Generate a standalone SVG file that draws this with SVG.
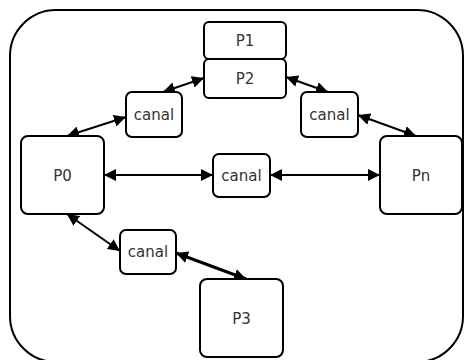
<svg xmlns="http://www.w3.org/2000/svg" width="464" height="360" viewBox="0 0 464 360">
  <style>
    .box { fill: #fff; stroke: #000; stroke-width: 2; }
    .frame { fill: none; stroke: #000; stroke-width: 2; }
    .lbl { font-family: "DejaVu Sans", "Liberation Sans", sans-serif; font-size: 15px; fill: #333; text-anchor: middle; dominant-baseline: central; }
    .link { stroke: #000; stroke-width: 2; fill: none; marker-start: url(#head); marker-end: url(#head); }
    .bold { stroke-width: 3; }
  </style>
  <defs>
    <marker id="head" viewBox="0 0 12 12" refX="12" refY="6" markerWidth="12" markerHeight="12" markerUnits="userSpaceOnUse" orient="auto-start-reverse">
      <path d="M0,0 L12,6 L0,12 Z" fill="#000"/>
    </marker>
  </defs>

  <!-- enclosing system boundary -->
  <rect class="frame" x="10" y="10" width="453" height="352" rx="46" ry="46"/>

  <!-- channels between processes -->
  <g id="connectors">
    <line class="link" x1="204" y1="78" x2="163" y2="92"/>
    <line class="link" x1="126" y1="117" x2="67" y2="136"/>
    <line class="link" x1="286" y1="77" x2="328" y2="92"/>
    <line class="link" x1="358" y1="115" x2="416" y2="136"/>
    <line class="link" x1="104" y1="175" x2="213" y2="175"/>
    <line class="link" x1="270" y1="175" x2="380" y2="175"/>
    <line class="link" x1="67" y1="214" x2="120" y2="251"/>
    <line class="link bold" x1="176" y1="253" x2="246" y2="279"/>
  </g>

  <g id="p1">
    <rect class="box" x="204" y="22" width="82" height="37" rx="5"/>
    <text class="lbl" x="245" y="41">P1</text>
  </g>
  <g id="p2">
    <rect class="box" x="204" y="59" width="82" height="39" rx="5"/>
    <text class="lbl" x="245" y="79">P2</text>
  </g>
  <g id="canal-left">
    <rect class="box" x="126" y="92" width="56" height="45" rx="6"/>
    <text class="lbl" x="154" y="115">canal</text>
  </g>
  <g id="canal-right">
    <rect class="box" x="301" y="92" width="57" height="45" rx="6"/>
    <text class="lbl" x="329.5" y="115">canal</text>
  </g>
  <g id="p0">
    <rect class="box" x="21" y="136" width="83" height="78" rx="7"/>
    <text class="lbl" x="62.5" y="176">P0</text>
  </g>
  <g id="canal-center">
    <rect class="box" x="213" y="154" width="57" height="43" rx="6"/>
    <text class="lbl" x="241.5" y="176">canal</text>
  </g>
  <g id="pn">
    <rect class="box" x="380" y="136" width="82" height="78" rx="7"/>
    <text class="lbl" x="421" y="176">Pn</text>
  </g>
  <g id="canal-bottom">
    <rect class="box" x="120" y="230" width="56" height="44" rx="6"/>
    <text class="lbl" x="148" y="252">canal</text>
  </g>
  <g id="p3">
    <rect class="box" x="200" y="279" width="83" height="78" rx="7"/>
    <text class="lbl" x="241.5" y="319">P3</text>
  </g>
</svg>
